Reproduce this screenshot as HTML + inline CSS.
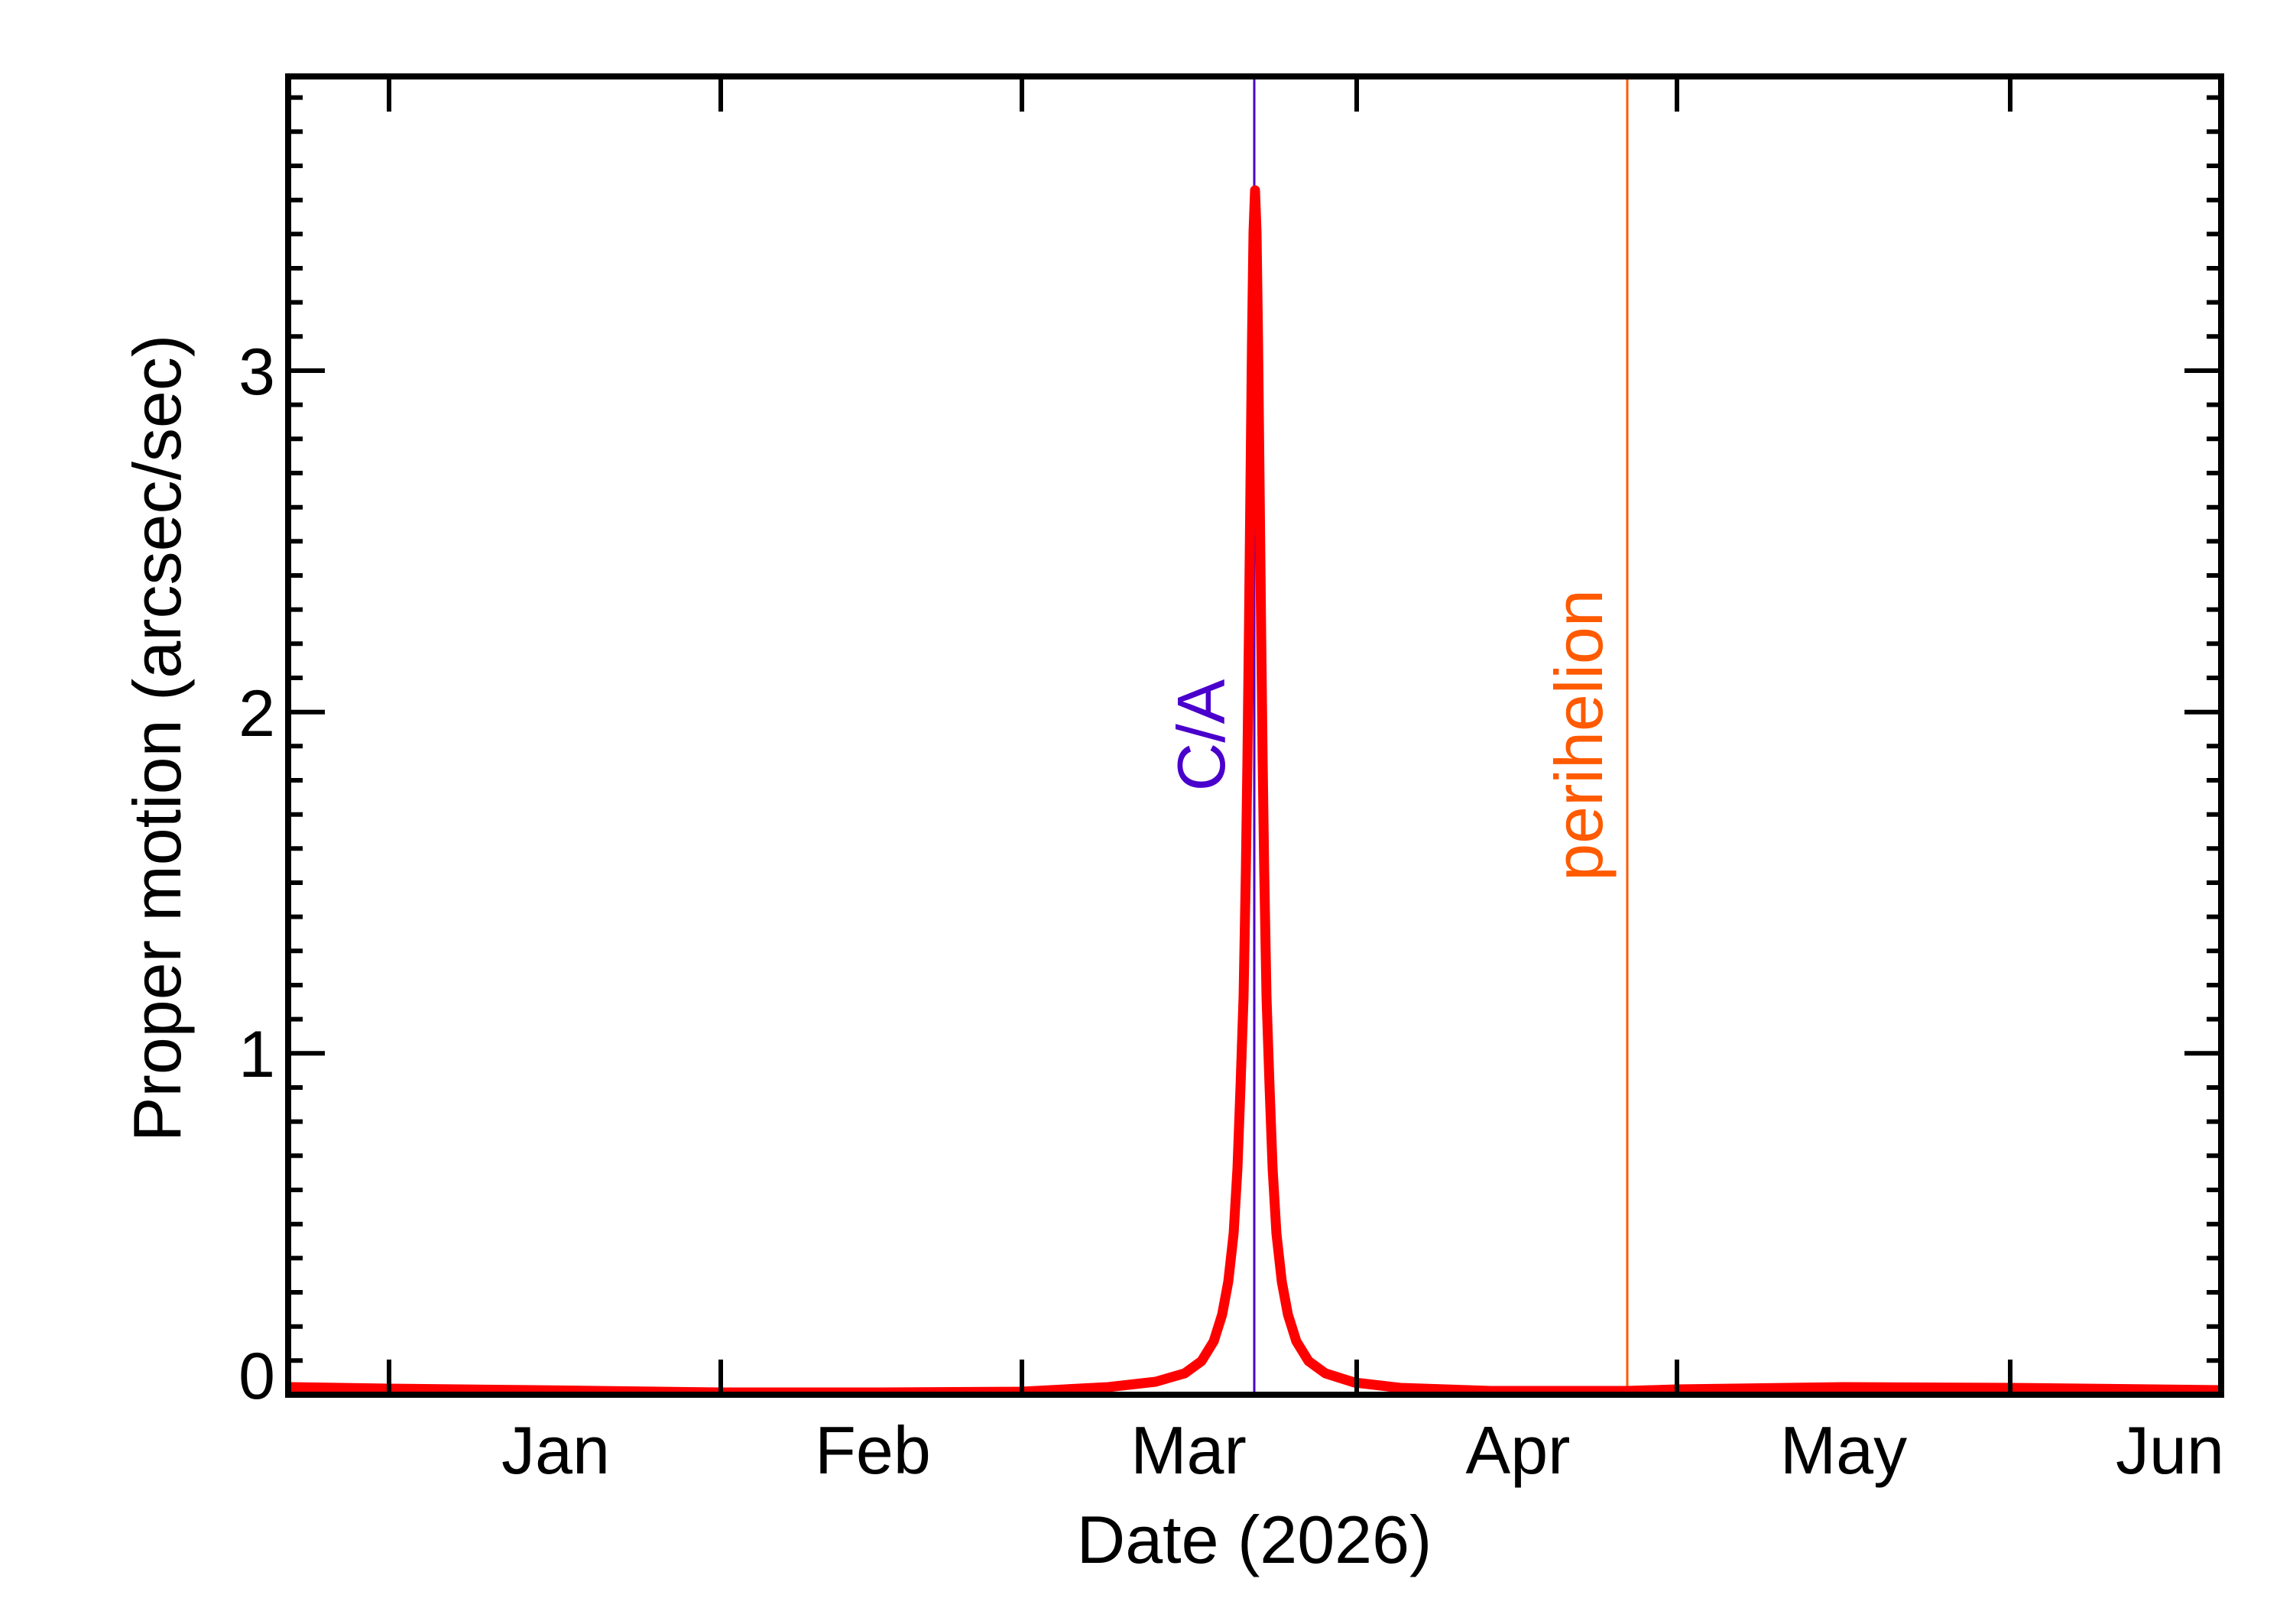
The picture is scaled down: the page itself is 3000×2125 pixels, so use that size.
<!DOCTYPE html>
<html><head><meta charset="utf-8"><style>
html,body{margin:0;padding:0;background:#fff;}
svg{display:block;}
text{font-family:"Liberation Sans",Arial,sans-serif;}
</style></head><body>
<svg width="3000" height="2125" viewBox="0 0 3000 2125" xmlns="http://www.w3.org/2000/svg">
<rect width="3000" height="2125" fill="#fff"/>
<line x1="1641" y1="100" x2="1641" y2="1825" stroke="#4a00cc" stroke-width="3"/>
<line x1="2129" y1="100" x2="2129" y2="1825" stroke="#ff5a00" stroke-width="3"/>
<polyline fill="none" stroke="#ff0000" stroke-width="13" stroke-linejoin="round" points="
377,1815 509,1817 700,1819 943,1822 1150,1822 1337,1821 1450,1815 1512,1808 1550,1797 1572,1781 1588,1755 1599,1720 1607,1677 1614,1614 1619,1529 1623,1422 1627,1304 1630,1139 1632,997 1634,826 1636,636 1638,448 1640,304 1642,249 1644,304 1646,448 1648,636 1650,826 1652,997 1654,1139 1657,1304 1661,1422 1665,1529 1670,1614 1677,1677 1685,1720 1696,1755 1712,1781 1734,1797 1772,1809 1832,1816 1950,1820 2129,1820 2194,1818 2412,1815 2630,1816 2906,1819"/>
<rect x="377" y="100" width="2529" height="1725" fill="none" stroke="#000" stroke-width="8"/>
<g stroke="#000" stroke-width="6">
<path d="M509,1825v-46M943,1825v-46M1337,1825v-46M1775,1825v-46M2194,1825v-46M2630,1825v-46
M509,100v46M943,100v46M1337,100v46M1775,100v46M2194,100v46M2630,100v46"/>
<path d="M377,1378.3h48M377,931.7h48M377,485h48M2906,1378.3h-48M2906,931.7h-48M2906,485h-48"/>
<path d="
M377,1780.3h19M377,1735.7h19M377,1691h19M377,1646.3h19M377,1601.7h19M377,1557h19M377,1512.3h19M377,1467.6h19M377,1423h19
M377,1333.6h19M377,1289h19M377,1244.3h19M377,1199.6h19M377,1155h19M377,1110.3h19M377,1065.7h19M377,1021h19M377,976.3h19
M377,887h19M377,842.3h19M377,797.6h19M377,753h19M377,708.3h19M377,663.7h19M377,619h19M377,574.3h19M377,529.6h19
M377,440.3h19M377,395.6h19M377,351h19M377,306.3h19M377,261.7h19M377,217h19M377,172.3h19M377,127.6h19
M2906,1780.3h-19M2906,1735.7h-19M2906,1691h-19M2906,1646.3h-19M2906,1601.7h-19M2906,1557h-19M2906,1512.3h-19M2906,1467.6h-19M2906,1423h-19
M2906,1333.6h-19M2906,1289h-19M2906,1244.3h-19M2906,1199.6h-19M2906,1155h-19M2906,1110.3h-19M2906,1065.7h-19M2906,1021h-19M2906,976.3h-19
M2906,887h-19M2906,842.3h-19M2906,797.6h-19M2906,753h-19M2906,708.3h-19M2906,663.7h-19M2906,619h-19M2906,574.3h-19M2906,529.6h-19
M2906,440.3h-19M2906,395.6h-19M2906,351h-19M2906,306.3h-19M2906,261.7h-19M2906,217h-19M2906,172.3h-19M2906,127.6h-19"/>
</g>
<g font-size="86" fill="#000" text-anchor="end">
<text x="360" y="1830">0</text>
<text x="360" y="1409">1</text>
<text x="360" y="963">2</text>
<text x="360" y="516">3</text>
</g>
<g font-size="88" fill="#000" text-anchor="middle">
<text x="727" y="1928">Jan</text>
<text x="1142" y="1928">Feb</text>
<text x="1555" y="1928">Mar</text>
<text x="1986" y="1928">Apr</text>
<text x="2412" y="1928">May</text>
<text x="2839" y="1928">Jun</text>
<text x="1641" y="2045">Date (2026)</text>
</g>
<text transform="translate(236,966) rotate(-90)" font-size="88" text-anchor="middle" fill="#000">Proper motion (arcsec/sec)</text>
<text transform="translate(1602,962) rotate(-90)" font-size="88" text-anchor="middle" fill="#4a00cc">C/A</text>
<text transform="translate(2096,962) rotate(-90)" font-size="88" text-anchor="middle" fill="#ff5a00">perihelion</text>
</svg>
</body></html>
